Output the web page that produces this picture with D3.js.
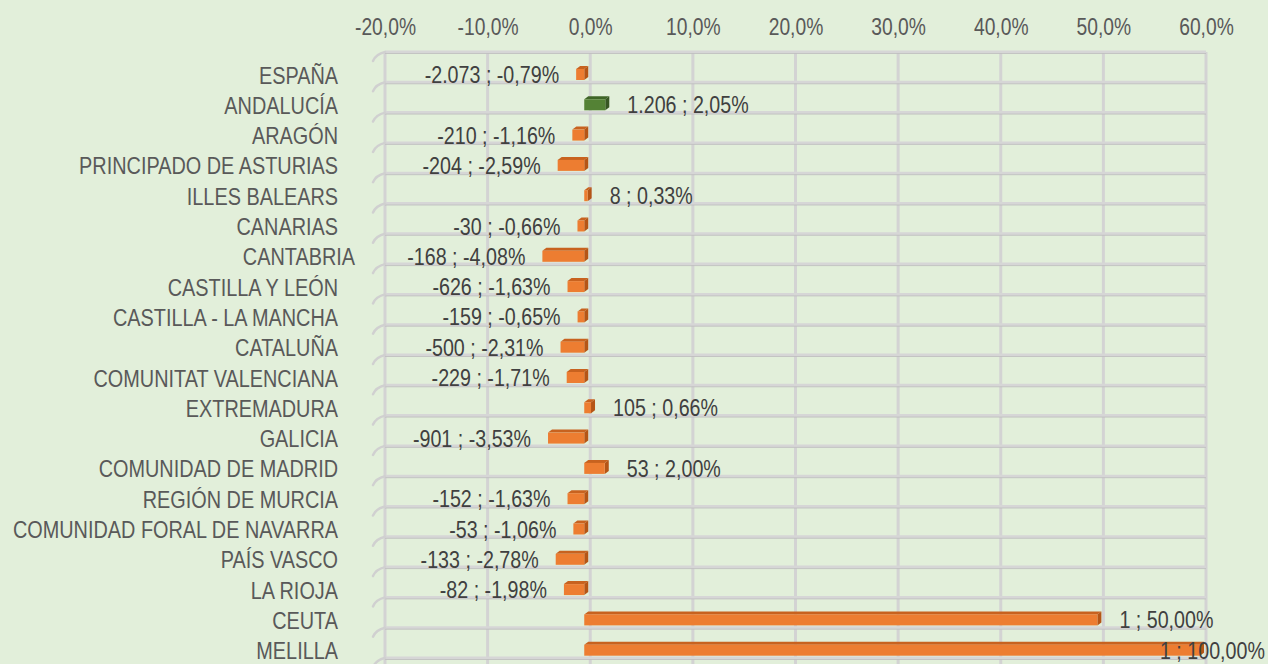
<!DOCTYPE html>
<html>
<head>
<meta charset="utf-8">
<script src="https://cdn.jsdelivr.net/npm/d3@7"></script>
<style>
  body { margin: 0; background: #e2efda; }
  svg { display: block; }
  text { font-family: "Liberation Sans", Arial, sans-serif; }
</style>
</head>
<body>
<svg width="1268" height="664"></svg>
<script>
// regions, net change and % change
const categories = [
  'ESPAÑA', 'ANDALUCÍA', 'ARAGÓN', 'PRINCIPADO DE ASTURIAS', 'ILLES BALEARS',
  'CANARIAS', 'CANTABRIA', 'CASTILLA Y LEÓN', 'CASTILLA - LA MANCHA', 'CATALUÑA',
  'COMUNITAT VALENCIANA', 'EXTREMADURA', 'GALICIA', 'COMUNIDAD DE MADRID',
  'REGIÓN DE MURCIA', 'COMUNIDAD FORAL DE NAVARRA', 'PAÍS VASCO', 'LA RIOJA',
  'CEUTA', 'MELILLA'
];
const counts = [-2073, 1206, -210, -204, 8, -30, -168, -626, -159, -500,
  -229, 105, -901, 53, -152, -53, -133, -82, 1, 1];
const pcts = [-0.79, 2.05, -1.16, -2.59, 0.33, -0.66, -4.08, -1.63, -0.65, -2.31,
  -1.71, 0.66, -3.53, 2.00, -1.63, -1.06, -2.78, -1.98, 50.00, 100.00];
const tickValues = [-0.2, -0.1, 0, 0.1, 0.2, 0.3, 0.4, 0.5, 0.6];
const highlighted = 'ANDALUCÍA';

const data = categories.map((c, i) => ({ name: c, count: counts[i], pct: pcts[i] / 100 }));

const es = d3.formatLocale({ decimal: ',', thousands: '.', grouping: [3], currency: ['', ' €'], minus: '-' });
const fmtCount = es.format(',d');
const fmtPct = es.format('.2%');
const fmtTick = es.format('.1%');

const svg = d3.select('svg');
const W = 1268, H = 664;
const SX = 0.82;           // narrow font look
const SXC = 0.845;         // category labels
const FS = 23.5;

const x = d3.scaleLinear().domain([-0.2, 0.6]).range([385, 1206]);
const y = d3.scaleBand().domain(categories).range([52, 658]).padding(0);

// front plane of the bars sits a bit left of the back wall grid
const front = v => x(v) - 6;
const dx = 4, dy = 3;

// grid
const grid = svg.append('g');
grid.selectAll('.vline')
  .data(tickValues)
  .enter().append('line')
  .attr('x1', d => x(d)).attr('x2', d => x(d))
  .attr('y1', 52).attr('y2', H)
  .attr('stroke', '#d3d3d3').attr('stroke-width', 3);

const rows = categories.map(c => y(c)).concat([y.range()[1]]);
grid.selectAll('.hline')
  .data(rows)
  .enter().append('line')
  .attr('x1', x(-0.2)).attr('x2', x(0.6))
  .attr('y1', d => d).attr('y2', d => d)
  .attr('stroke', '#d6d6d6').attr('stroke-width', 3);
grid.selectAll('.hline2')
  .data(rows)
  .enter().append('line')
  .attr('x1', x(-0.2)).attr('x2', x(0.6))
  .attr('y1', d => d + 1.5).attr('y2', d => d + 1.5)
  .attr('stroke', '#bdbdbd').attr('stroke-width', 0.8);

// small depth hooks on the left wall
grid.selectAll('.hook')
  .data(rows)
  .enter().append('path')
  .attr('d', d => `M${x(-0.2) - 12},${d + 9} Q${x(-0.2) - 9},${d + 2} ${x(-0.2)},${d}`)
  .attr('fill', 'none').attr('stroke', '#d0d0d0').attr('stroke-width', 2.5)
  .attr('stroke-linecap', 'round');

// axis on top
const axis = svg.append('g')
  .attr('transform', 'translate(0,35)')
  .call(d3.axisTop(x).tickValues(tickValues).tickFormat(fmtTick).tickSize(0).tickPadding(0));
axis.select('.domain').remove();
axis.selectAll('text')
  .attr('font-size', FS).attr('fill', '#595959')
  .attr('font-family', '"Liberation Sans", Arial, sans-serif')
  .attr('dy', 0)
  .attr('transform', `scale(${SX},1)`);

// category labels
const wrapShift = { 'CANTABRIA': 17 };
svg.append('g').selectAll('text')
  .data(data)
  .enter().append('text')
  .attr('transform', d => `translate(${338 + (wrapShift[d.name] || 0)},${y(d.name) + 31.5}) scale(${SXC},1)`)
  .attr('text-anchor', 'end')
  .attr('font-size', FS)
  .attr('fill', '#595959')
  .text(d => d.name);

// 3D bars
const clip = v => Math.max(-0.2, Math.min(0.6, v));
const bars = svg.append('g').selectAll('g')
  .data(data)
  .enter().append('g');

bars.each(function (d) {
  const g = d3.select(this);
  const v = clip(d.pct);
  const x0 = front(Math.min(0, v)), x1 = front(Math.max(0, v));
  const yT = y(d.name) + 17, yB = yT + 11;
  const green = d.name === highlighted;
  const cFront = green ? '#548235' : '#ed7d31';
  const cTop = green ? '#3f6527' : '#c8621f';
  const cSide = green ? '#375623' : '#b55516';
  g.append('polygon')
    .attr('points', [[x0, yT], [x0 + dx, yT - dy], [x1 + dx, yT - dy], [x1, yT]].join(' '))
    .attr('fill', cTop);
  g.append('polygon')
    .attr('points', [[x1, yT], [x1 + dx, yT - dy], [x1 + dx, yB - dy], [x1, yB]].join(' '))
    .attr('fill', cSide);
  g.append('rect')
    .attr('x', x0).attr('y', yT)
    .attr('width', Math.max(0.8, x1 - x0)).attr('height', yB - yT)
    .attr('fill', cFront);
});

// data labels
svg.append('g').selectAll('text')
  .data(data)
  .enter().append('text')
  .attr('font-size', 24)
  .attr('fill', '#404040')
  .text(d => `${fmtCount(d.count)} ; ${fmtPct(d.pct)}`)
  .each(function (d) {
    const t = d3.select(this);
    const v = clip(d.pct);
    const yy = y(d.name) + 31;
    const w = this.getComputedTextLength() * SX;
    if (d.pct < 0) {
      t.attr('text-anchor', 'end')
        .attr('transform', `translate(${front(v) - 17},${yy}) scale(${SX},1)`);
    } else {
      let sx = front(v) + dx + 18;
      if (sx + w > W - 3) sx = W - 3 - w;
      t.attr('text-anchor', 'start')
        .attr('transform', `translate(${sx},${yy}) scale(${SX},1)`);
    }
  });
</script>
</body>
</html>
